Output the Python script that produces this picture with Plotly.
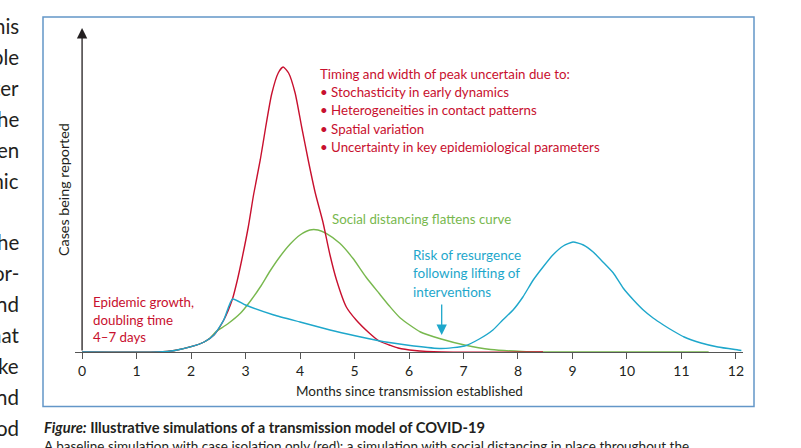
import plotly.graph_objects as go

# months since transmission and cases (arbitrary units)
red_month = [0, 1.4, 1.7, 2.0, 2.24, 2.42, 2.6, 2.76, 2.85, 2.93, 3.05, 3.15, 3.27, 3.37, 3.48, 3.60,
             3.69, 3.79, 3.91, 4.03, 4.15, 4.28, 4.42, 4.55, 4.67, 4.85, 5.03, 5.27, 5.45, 5.64,
             5.8, 6.1, 6.6, 8.46]
red_cases = [0, 0, 1.5, 5.3, 10, 17, 32, 53, 72, 92, 125, 158, 192, 225, 258, 279,
             285, 279, 259, 225, 192, 159, 130, 97, 72, 45, 32, 19, 11, 7,
             4, 1.5, 0, 0]

green_month = [0, 1.4, 1.7, 2.0, 2.24, 2.35, 2.45, 2.67, 2.91, 3.09, 3.27, 3.45, 3.64, 3.82, 4.0,
               4.18, 4.33, 4.48, 4.73, 4.97, 5.21, 5.45, 5.64, 5.84, 6.21, 6.59, 7.02, 7.5, 8.07,
               8.5, 11.5]
green_cases = [0, 0, 1.5, 5.3, 10, 14, 20, 28, 39, 51, 65, 81, 96, 108, 117,
               122, 122, 118.7, 108.7, 93.7, 75, 58.7, 46, 34, 20, 13, 7, 2.5, 0.5,
               0, 0]

blue_month = [0, 1.4, 1.7, 2.0, 2.24, 2.42, 2.6, 2.76, 3.0, 3.52, 4.0, 4.55, 5.03, 5.47, 5.64,
              6.09, 6.59, 7.02, 7.29, 7.54, 7.72, 7.91, 8.09, 8.28, 8.46, 8.64, 8.83, 9.01,
              9.2, 9.38, 9.56, 9.75, 9.93, 10.12, 10.3, 10.48, 10.67, 10.85, 11.05, 11.36,
              11.67, 12.04, 12.1]
blue_cases = [0, 0, 1.5, 5.3, 10, 17, 32, 53, 47, 37, 30, 22, 16, 11, 9.5,
              6, 3.5, 6, 13, 22, 32, 42, 55, 72, 85, 97, 106, 110,
              107, 100, 90, 79, 64, 52, 42, 34, 27, 21, 15, 9,
              5, 2, 1.5]

tick_months = list(range(0, 13))

red_note = [
    "Timing and width of peak uncertain due to:",
    "• Stochasticity in early dynamics",
    "• Heterogeneities in contact patterns",
    "• Spatial variation",
    "• Uncertainty in key epidemiological parameters",
]
growth_note = ["Epidemic growth,", "doubling time", "4–7 days"]
blue_note = ["Risk of resurgence", "following lifting of", "interventions"]
green_note = "Social distancing flattens curve"

# cut-off words of the neighbouring page column
side_words = ["his", "ble", "ter", "he", "en", "mic", "", "he", "or-", "nd", "hat", "ke", "nd", "od"]

RED = "#c8102e"
GREEN = "#78b84e"
BLUE = "#1ea7cb"
INK = "#231f20"
BOX = "#6396c8"
FONT = "Lato, Open Sans, sans-serif"


def px_x(p):
    # page pixel -> paper x
    return (p - 75) / 668


def px_y(p):
    # page pixel -> paper y
    return (352 - p) / 324


fig = go.Figure()
fig.add_trace(go.Scatter(x=green_month, y=green_cases, mode="lines",
                         line=dict(color=GREEN, width=1.4, shape="spline", smoothing=0.6)))
fig.add_trace(go.Scatter(x=red_month, y=red_cases, mode="lines",
                         line=dict(color=RED, width=1.4, shape="spline", smoothing=0.6)))
fig.add_trace(go.Scatter(x=blue_month, y=blue_cases, mode="lines",
                         line=dict(color=BLUE, width=1.4, shape="spline", smoothing=0.5)))

ann = []
# y axis drawn as an arrow
ann.append(dict(x=0, y=324, ax=0, ay=0, xref="x", yref="y", axref="x", ayref="y",
                showarrow=True, arrowhead=2, arrowsize=1.6, arrowwidth=1.3,
                arrowcolor=INK, text=""))
# resurgence arrow
ann.append(dict(x=6.6, y=17, ax=6.6, ay=49, xref="x", yref="y", axref="x", ayref="y",
                showarrow=True, arrowhead=2, arrowsize=1.6, arrowwidth=1.3,
                arrowcolor=BLUE, text=""))

for i, line in enumerate(red_note):
    ann.append(dict(x=4.33, y=278 - 18.2 * i, xref="x", yref="y", text=line, showarrow=False,
                    xanchor="left", yanchor="middle", font=dict(color=RED, size=13.3)))
for i, line in enumerate(growth_note):
    ann.append(dict(x=0.16, y=50.3 - 17.8 * i, xref="x", yref="y", text=line, showarrow=False,
                    xanchor="left", yanchor="middle", font=dict(color=RED, size=13.3)))
for i, line in enumerate(blue_note):
    ann.append(dict(x=6.03, y=97.3 - 18.6 * i, xref="x", yref="y", text=line, showarrow=False,
                    xanchor="left", yanchor="middle", font=dict(color=BLUE, size=13.5)))
ann.append(dict(x=4.55, y=133, xref="x", yref="y", text=green_note, showarrow=False,
                xanchor="left", yanchor="middle", font=dict(color=GREEN, size=13.3)))

ann.append(dict(x=px_x(409), y=px_y(391), xref="paper", yref="paper",
                text="Months since transmission established", showarrow=False,
                xanchor="center", yanchor="middle", font=dict(color=INK, size=13.5)))
ann.append(dict(x=px_x(63), y=px_y(190), xref="paper", yref="paper",
                text="Cases being reported", textangle=-90, showarrow=False,
                xanchor="center", yanchor="middle", font=dict(color=INK, size=14.3)))

for i, w in enumerate(side_words):
    if w:
        ann.append(dict(x=px_x(21), y=px_y(26 + 30.9 * i), xref="paper", yref="paper",
                        text=w, showarrow=False, xanchor="right", yanchor="middle",
                        font=dict(color=INK, size=20.5)))

ann.append(dict(x=px_x(42), y=px_y(426.5), xref="paper", yref="paper",
                text="<b><i>Figure:</i> Illustrative simulations of a transmission model of COVID-19</b>",
                showarrow=False, xanchor="left", yanchor="middle", font=dict(color=INK, size=14.7)))
ann.append(dict(x=px_x(42), y=px_y(446), xref="paper", yref="paper",
                text="A baseline simulation with case isolation only (red); a simulation with social distancing in place throughout the",
                showarrow=False, xanchor="left", yanchor="middle", font=dict(color=INK, size=13.5)))

fig.update_layout(
    width=801, height=448,
    margin=dict(l=75, r=58, t=28, b=96),
    paper_bgcolor="white", plot_bgcolor="white",
    showlegend=False,
    font=dict(family=FONT, color=INK),
    annotations=ann,
    shapes=[dict(type="rect", xref="paper", yref="paper",
                 x0=px_x(43), x1=px_x(754), y0=px_y(406.5), y1=px_y(17),
                 line=dict(color=BOX, width=1.5))],
    xaxis=dict(range=[-0.13, 12.13], tickvals=tick_months, showgrid=False, zeroline=False,
               showline=True, linecolor="#555555", linewidth=1.3,
               ticks="outside", ticklen=6, tickwidth=1.3, tickcolor="#555555",
               tickfont=dict(size=14, color=INK)),
    yaxis=dict(range=[0, 324], visible=False),
)

# page body margin would shift the figure by 8px
fig.write_html("out.html", config={"displayModeBar": False},
               post_script="document.body.style.margin='0';document.body.style.overflow='hidden';")
